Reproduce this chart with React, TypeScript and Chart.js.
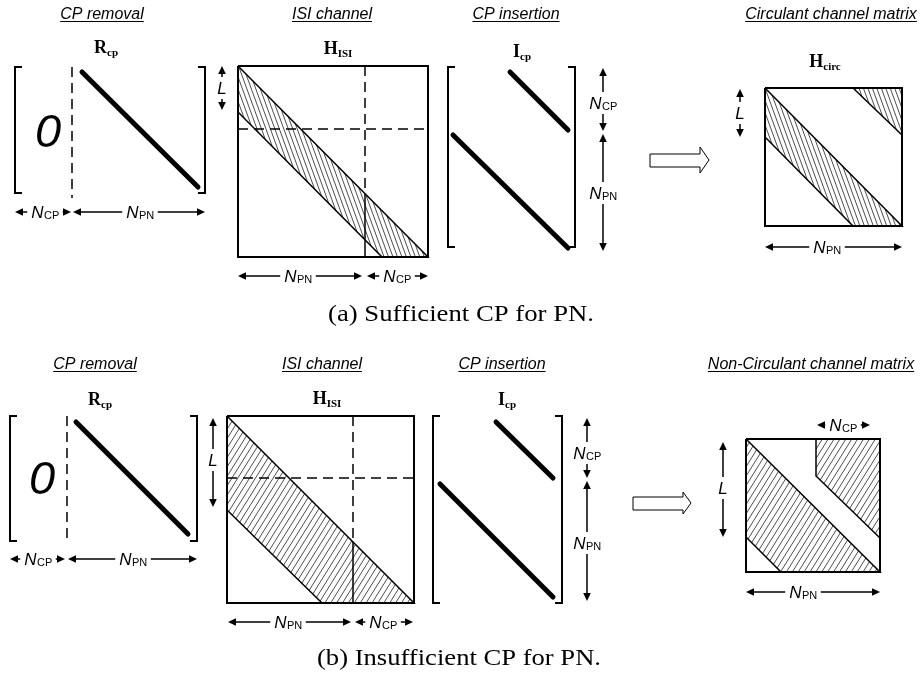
import { useEffect, useRef } from "react";
import { Chart, registerables } from "chart.js";

Chart.register(...registerables);

type Pt = [number, number];

// ---------------- text content ----------------
const captions = ["(a) Sufficient CP for PN.", "(b) Insufficient CP for PN."];
const captionPos: Pt[] = [[461, 321], [459, 665]];
const captionSpan = [266, 284];

const stageTitles = [
  "CP removal", "ISI channel", "CP insertion", "Circulant channel matrix",
  "CP removal", "ISI channel", "CP insertion", "Non-Circulant channel matrix",
];
const stageTitlePos: Pt[] = [
  [102, 19], [332, 19], [516, 19], [831, 19],
  [95, 369], [322, 369], [502, 369], [811, 369],
];

const matrixSymbols = ["R", "H", "I", "H", "R", "H", "I"];
const matrixSubs = ["cp", "ISI", "cp", "circ", "cp", "ISI", "cp"];
const matrixPos: Pt[] = [
  [106, 53], [338, 54], [522, 57], [825, 67],
  [100, 405], [327, 404], [507, 405],
];

const zeroPos: Pt[] = [[48, 133], [42, 480]];

// ---------------- geometry (diagram units) ----------------
const thickDiagonals: Pt[][] = [
  [[82, 72], [198, 187]],
  [[510, 72], [568, 130]],
  [[453, 135], [568, 248]],
  [[76, 422], [188, 534]],
  [[496, 422], [553, 478]],
  [[440, 484], [553, 597]],
];

const brackets: Pt[][] = [
  [[22, 67], [15, 67], [15, 193], [22, 193]],
  [[198, 67], [205, 67], [205, 193], [198, 193]],
  [[455, 67], [448, 67], [448, 247], [455, 247]],
  [[568, 67], [575, 67], [575, 247], [568, 247]],
  [[17, 416], [10, 416], [10, 541], [17, 541]],
  [[190, 416], [197, 416], [197, 541], [190, 541]],
  [[440, 416], [433, 416], [433, 603], [440, 603]],
  [[555, 416], [562, 416], [562, 603], [555, 603]],
];

const boxes: Pt[][] = [
  [[238, 66], [428, 66], [428, 257], [238, 257], [238, 66]],
  [[765, 88], [902, 88], [902, 226], [765, 226], [765, 88]],
  [[227, 416], [414, 416], [414, 603], [227, 603], [227, 416]],
  [[746, 439], [880, 439], [880, 572], [746, 572], [746, 439]],
];

const dashedLines: Pt[][] = [
  [[72, 67], [72, 198]],
  [[365, 66], [365, 194]],
  [[238, 129], [428, 129]],
  [[67, 416], [67, 543]],
  [[353, 416], [353, 542]],
  [[227, 478], [414, 478]],
];

const hatchedA: Pt[][] = [
  [[238, 66], [428, 257], [382, 257], [238, 112]],
  [[765, 88], [902, 226], [853, 226], [765, 137]],
  [[853, 88], [902, 88], [902, 135]],
];
const hatchedB: Pt[][] = [
  [[227, 416], [414, 603], [322, 603], [227, 510]],
  [[746, 439], [880, 572], [781, 572], [746, 537]],
  [[816, 439], [880, 439], [880, 538], [816, 476]],
];
const bandSplits: Pt[][] = [
  [[365, 194], [365, 257]],
  [[353, 542], [353, 603]],
];

const blockArrows: Pt[][] = [
  [[650, 154], [700, 154], [700, 147], [709, 160], [700, 173], [700, 167], [650, 167], [650, 154]],
  [[633, 497], [683, 497], [683, 492], [691, 503], [683, 514], [683, 510], [633, 510], [633, 497]],
];

// dimension arrows
const hArrowY = [212, 212, 276, 276, 247, 559, 559, 622, 622, 425, 592];
const hArrowX1 = [15, 73, 238, 367, 765, 10, 68, 228, 355, 817, 746];
const hArrowX2 = [71, 205, 362, 428, 902, 65, 197, 351, 413, 870, 880];
const hArrowSym = ["N", "N", "N", "N", "N", "N", "N", "N", "N", "N", "N"];
const hArrowSub = ["CP", "PN", "PN", "CP", "PN", "CP", "PN", "PN", "CP", "CP", "PN"];
const hArrowLabelX = [45, 140, 298, 397, 827, 38, 133, 288, 383, 843, 803];

const vArrowX = [222, 603, 603, 740, 213, 587, 587, 723];
const vArrowY1 = [66, 68, 134, 89, 418, 418, 481, 442];
const vArrowY2 = [110, 131, 251, 137, 507, 478, 601, 537];
const vArrowSym = ["L", "N", "N", "L", "L", "N", "N", "L"];
const vArrowSub = ["", "CP", "PN", "", "", "CP", "PN", ""];
const vArrowLabelY = [88, 103, 193, 113, 460, 453, 543, 488];

// ---------------- helpers ----------------
const SANS = "'Liberation Sans', Arial, sans-serif";
const SERIF = "'Liberation Serif', 'Times New Roman', serif";

function lineSet(pts: Pt[], width: number, dash: number[] = [], cap: CanvasLineCap = "butt") {
  return {
    data: pts.map(([x, y]) => ({ x, y })),
    showLine: true,
    borderColor: "#000",
    backgroundColor: "#000",
    borderWidth: width,
    borderDash: dash,
    borderCapStyle: cap,
    borderJoinStyle: "miter" as CanvasLineJoin,
    pointRadius: 0,
    pointHoverRadius: 0,
    fill: false,
    tension: 0,
  };
}

function head(ctx: CanvasRenderingContext2D, x: number, y: number, dx: number, dy: number) {
  const len = 8, hw = 3.8;
  const bx = x - dx * len, by = y - dy * len;
  ctx.beginPath();
  ctx.moveTo(x, y);
  ctx.lineTo(bx - dy * hw, by + dx * hw);
  ctx.lineTo(bx + dy * hw, by - dx * hw);
  ctx.closePath();
  ctx.fill();
}

function labelWidth(ctx: CanvasRenderingContext2D, sym: string, sub: string) {
  ctx.font = `italic 17px ${SANS}`;
  const w1 = ctx.measureText(sym).width;
  ctx.font = `11px ${SANS}`;
  const w2 = sub ? ctx.measureText(sub).width : 0;
  return [w1, w2];
}

function drawLabel(ctx: CanvasRenderingContext2D, sym: string, sub: string, cx: number, cy: number) {
  const [w1, w2] = labelWidth(ctx, sym, sub);
  const x0 = cx - (w1 + w2) / 2;
  const base = cy + 6;
  ctx.textAlign = "left";
  ctx.textBaseline = "alphabetic";
  ctx.font = `italic 17px ${SANS}`;
  ctx.fillText(sym, x0, base);
  if (sub) {
    ctx.font = `11px ${SANS}`;
    ctx.fillText(sub, x0 + w1 + 0.5, base + 1);
  }
  return w1 + w2;
}

function hatch(ctx: CanvasRenderingContext2D, poly: Pt[], angleDeg: number, spacing: number) {
  ctx.save();
  ctx.beginPath();
  poly.forEach(([x, y], i) => (i === 0 ? ctx.moveTo(x, y) : ctx.lineTo(x, y)));
  ctx.closePath();
  ctx.clip();
  const a = (angleDeg * Math.PI) / 180;
  const dx = Math.cos(a), dy = Math.sin(a);
  const nx = -dy, ny = dx;
  const xs = poly.map((p) => p[0]), ys = poly.map((p) => p[1]);
  const minX = Math.min(...xs), maxX = Math.max(...xs), minY = Math.min(...ys), maxY = Math.max(...ys);
  const corners: Pt[] = [[minX, minY], [maxX, minY], [minX, maxY], [maxX, maxY]];
  const proj = corners.map(([x, y]) => x * nx + y * ny);
  const lo = Math.min(...proj), hi = Math.max(...proj);
  const L = (maxX - minX) + (maxY - minY) + 20;
  ctx.strokeStyle = "#3a3a3a";
  ctx.lineWidth = 0.9;
  ctx.beginPath();
  for (let s = Math.ceil(lo / spacing) * spacing; s <= hi; s += spacing) {
    const px = nx * s, py = ny * s;
    const t0 = (minX - px) * dx + (minY - py) * dy;
    const sx = px + dx * t0, sy = py + dy * t0;
    ctx.moveTo(sx - dx * L, sy - dy * L);
    ctx.lineTo(sx + dx * L, sy + dy * L);
  }
  ctx.stroke();
  ctx.restore();
}

const diagramPlugin = {
  id: "diagram",
  beforeDatasetsDraw(chart: any) {
    const ctx: CanvasRenderingContext2D = chart.ctx;
    const sx = chart.scales.x, sy = chart.scales.y;
    const toPx = (poly: Pt[]): Pt[] => poly.map(([x, y]) => [sx.getPixelForValue(x), sy.getPixelForValue(y)]);
    hatchedA.forEach((p) => hatch(ctx, toPx(p), 70, 4.2));
    hatchedB.forEach((p) => hatch(ctx, toPx(p), -58, 5.0));
  },
  afterDatasetsDraw(chart: any) {
    const ctx: CanvasRenderingContext2D = chart.ctx;
    const sx = chart.scales.x, sy = chart.scales.y;
    const X = (v: number) => sx.getPixelForValue(v);
    const Y = (v: number) => sy.getPixelForValue(v);
    ctx.save();
    ctx.fillStyle = "#000";
    ctx.strokeStyle = "#000";
    ctx.lineWidth = 1.5;

    hArrowY.forEach((yv, i) => {
      const y = Y(yv), x1 = X(hArrowX1[i]), x2 = X(hArrowX2[i]), cx = X(hArrowLabelX[i]);
      const [w1, w2] = labelWidth(ctx, hArrowSym[i], hArrowSub[i]);
      const half = (w1 + w2) / 2 + 4;
      ctx.lineWidth = 1.5;
      ctx.beginPath();
      if (cx - half > x1 + 6) { ctx.moveTo(x1 + 4, y); ctx.lineTo(cx - half, y); }
      if (cx + half < x2 - 6) { ctx.moveTo(cx + half, y); ctx.lineTo(x2 - 4, y); }
      ctx.stroke();
      head(ctx, x1, y, -1, 0);
      head(ctx, x2, y, 1, 0);
      drawLabel(ctx, hArrowSym[i], hArrowSub[i], cx, y);
    });

    vArrowX.forEach((xv, i) => {
      const x = X(xv), y1 = Y(vArrowY1[i]), y2 = Y(vArrowY2[i]), cy = Y(vArrowLabelY[i]);
      const half = 11;
      ctx.lineWidth = 1.5;
      ctx.beginPath();
      if (cy - half > y1 + 6) { ctx.moveTo(x, y1 + 4); ctx.lineTo(x, cy - half); }
      if (cy + half < y2 - 6) { ctx.moveTo(x, cy + half); ctx.lineTo(x, y2 - 4); }
      ctx.stroke();
      head(ctx, x, y1, 0, -1);
      head(ctx, x, y2, 0, 1);
      drawLabel(ctx, vArrowSym[i], vArrowSub[i], x, cy);
    });

    ctx.textBaseline = "alphabetic";
    stageTitles.forEach((t, i) => {
      const [xv, yv] = stageTitlePos[i];
      ctx.font = `italic 16px ${SANS}`;
      const w = ctx.measureText(t).width;
      const x = X(xv) - w / 2, y = Y(yv);
      ctx.textAlign = "left";
      ctx.fillText(t, x, y);
      ctx.lineWidth = 1;
      ctx.beginPath();
      ctx.moveTo(x, y + 2.5);
      ctx.lineTo(x + w, y + 2.5);
      ctx.stroke();
    });

    matrixSymbols.forEach((s, i) => {
      const [xv, yv] = matrixPos[i];
      ctx.font = `bold 18px ${SERIF}`;
      const w1 = ctx.measureText(s).width;
      ctx.font = `bold 11px ${SERIF}`;
      const w2 = ctx.measureText(matrixSubs[i]).width;
      const x0 = X(xv) - (w1 + w2) / 2, y = Y(yv);
      ctx.textAlign = "left";
      ctx.font = `bold 18px ${SERIF}`;
      ctx.fillText(s, x0, y);
      ctx.font = `bold 11px ${SERIF}`;
      ctx.fillText(matrixSubs[i], x0 + w1, y + 3);
    });

    zeroPos.forEach(([xv, yv]) => {
      ctx.font = `italic 47px ${SANS}`;
      ctx.textAlign = "center";
      ctx.textBaseline = "middle";
      ctx.fillText("0", X(xv), Y(yv) + 1);
    });

    ctx.textBaseline = "alphabetic";
    captions.forEach((c, i) => {
      const [xv, yv] = captionPos[i];
      ctx.font = `23px ${SERIF}`;
      const w = ctx.measureText(c).width;
      ctx.save();
      ctx.translate(X(xv), Y(yv));
      ctx.scale(captionSpan[i] / w, 1);
      ctx.textAlign = "left";
      ctx.fillText(c, -w / 2, 0);
      ctx.restore();
    });
    ctx.restore();
  },
};

export default function App() {
  const ref = useRef<HTMLCanvasElement | null>(null);
  useEffect(() => {
    if (!ref.current) return;
    const datasets: any[] = [
      ...boxes.map((p) => lineSet(p, 2)),
      ...brackets.map((p) => lineSet(p, 2)),
      ...dashedLines.map((p) => lineSet(p, 1.5, [10, 6])),
      ...hatchedA.map((p) => lineSet([...p, p[0]], 1.5)),
      ...hatchedB.map((p) => lineSet([...p, p[0]], 1.5)),
      ...bandSplits.map((p) => lineSet(p, 1.5)),
      ...thickDiagonals.map((p) => lineSet(p, 5, [], "round")),
      ...blockArrows.map((p) => lineSet(p, 1)),
    ];
    const chart = new Chart(ref.current, {
      type: "scatter",
      data: { datasets },
      options: {
        responsive: false,
        maintainAspectRatio: false,
        animation: false,
        devicePixelRatio: 1,
        events: [],
        layout: { padding: 0 },
        scales: {
          x: { type: "linear", min: 0, max: 924, display: false },
          y: { type: "linear", min: 0, max: 675, reverse: true, display: false },
        },
        plugins: { legend: { display: false }, tooltip: { enabled: false } },
      },
      plugins: [diagramPlugin],
    } as any);
    return () => chart.destroy();
  }, []);
  return (
    <div style={{ position: "absolute", left: 0, top: 0, width: 924, height: 675, background: "#fff" }}>
      <canvas ref={ref} width={924} height={675} style={{ display: "block" }} />
    </div>
  );
}
